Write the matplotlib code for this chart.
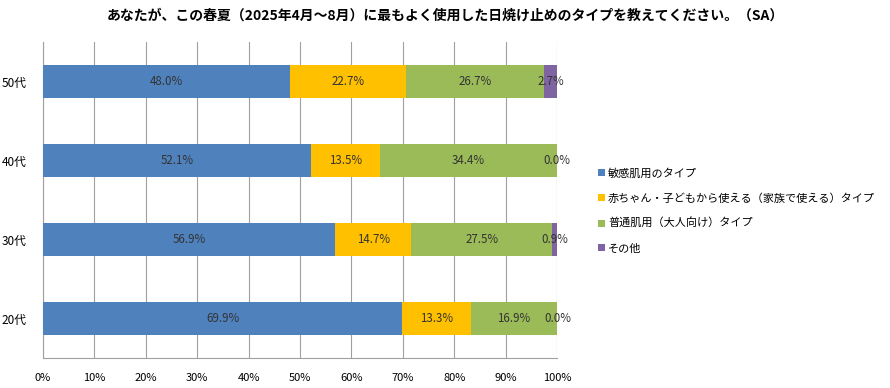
import matplotlib
matplotlib.use("Agg")
import matplotlib.pyplot as plt
from matplotlib.patches import Patch
import numpy as np

plt.rcParams['font.family'] = ['Noto Sans CJK JP', 'DejaVu Sans']

title = "あなたが、この春夏（2025年4月～8月）に最もよく使用した日焼け止めのタイプを教えてください。（SA）"
categories = ["20代", "30代", "40代", "50代"]
series_names = ["敏感肌用のタイプ", "赤ちゃん・子どもから使える（家族で使える）タイプ",
                "普通肌用（大人向け）タイプ", "その他"]
values = {
    "敏感肌用のタイプ": [69.9, 56.9, 52.1, 48.0],
    "赤ちゃん・子どもから使える（家族で使える）タイプ": [13.3, 14.7, 13.5, 22.7],
    "普通肌用（大人向け）タイプ": [16.9, 27.5, 34.4, 26.7],
    "その他": [0.0, 0.9, 0.0, 2.7],
}
colors = ["#4F81BD", "#FFC000", "#9BBB59", "#8064A2"]
xticks = [0, 10, 20, 30, 40, 50, 60, 70, 80, 90, 100]

fig = plt.figure(figsize=(8.9, 3.88), dpi=100)
ax = fig.add_axes([43/890, 30/388, (557-43)/890, (358-42)/388])

y = np.arange(len(categories))
left = np.zeros(len(categories))
for name, c in zip(series_names, colors):
    v = np.array(values[name])
    ax.barh(y, v, left=left, height=0.41, color=c, zorder=3)
    for yi, (l, vi) in enumerate(zip(left, v)):
        ax.text(l + vi / 2, yi, f"{vi:.1f}%", ha="center", va="center",
                fontsize=8.3, color="#333333", zorder=4)
    left = left + v

ax.set_xlim(0, 100)
ax.set_ylim(-0.5, len(categories) - 0.5)
ax.set_xticks(xticks)
ax.set_xticklabels([f"{t}%" for t in xticks], fontsize=8)
ax.set_yticks(y)
ax.set_yticklabels(categories, fontsize=8.5)
ax.tick_params(axis="x", length=0, pad=11)
ax.tick_params(axis="y", length=0, pad=12)
ax.grid(axis="x", color="#A0A0A0", linewidth=0.8, zorder=0)
for s in ["top", "right"]:
    ax.spines[s].set_visible(False)
for s in ["left", "bottom"]:
    ax.spines[s].set_color("#A0A0A0")
    ax.spines[s].set_linewidth(0.8)

fig.text(0.5, 1 - 16/388, title, ha="center", va="center", fontsize=10,
         fontweight="bold")

handles = [Patch(facecolor=c, edgecolor="none") for c in colors]
fig.legend(handles, series_names, loc="upper left", bbox_to_anchor=(588/890, 1 - 158/388),
           frameon=False, fontsize=8, handlelength=0.6, handleheight=0.6,
           handletextpad=0.3, labelspacing=1.3)

fig.savefig("out.png", dpi=100)
